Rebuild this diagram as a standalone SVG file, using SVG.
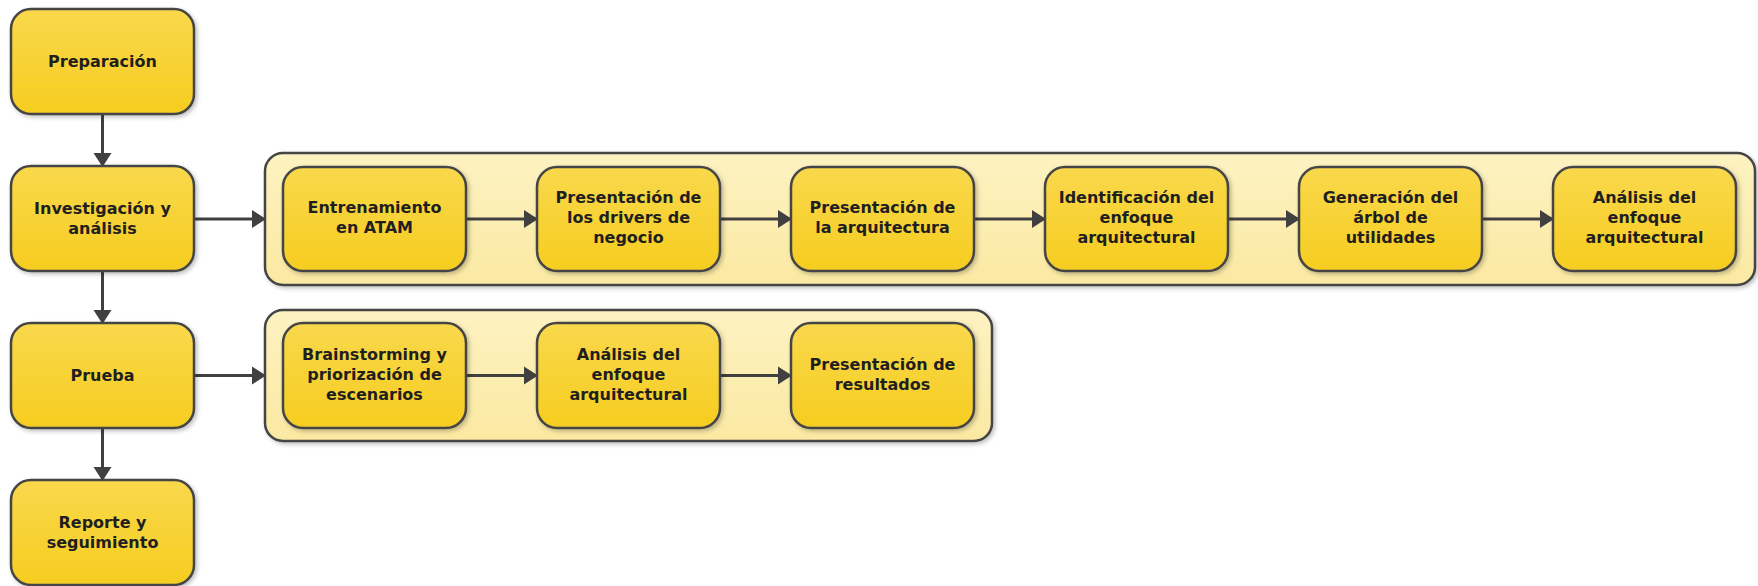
<svg xmlns="http://www.w3.org/2000/svg" width="1758" height="586" viewBox="0 0 1758 586">
<defs>
<linearGradient id="gBox" x1="0" y1="0" x2="0" y2="1">
<stop offset="0" stop-color="#F9D84C"/>
<stop offset="1" stop-color="#F6CD20"/>
</linearGradient>
<linearGradient id="gCont" x1="0" y1="0" x2="0" y2="1">
<stop offset="0" stop-color="#FDF2C2"/>
<stop offset="1" stop-color="#FBE9A2"/>
</linearGradient>
<filter id="sh" x="-10%" y="-10%" width="125%" height="130%">
<feDropShadow dx="2" dy="2" stdDeviation="2" flood-color="#000" flood-opacity="0.25"/>
</filter>
<marker id="ah" markerUnits="userSpaceOnUse" markerWidth="14" markerHeight="20" refX="13" refY="10" orient="auto">
<path d="M0,1 L14,10 L0,19 z" fill="#404040"/>
</marker>
</defs>
<style>
.box{fill:url(#gBox);stroke:#454545;stroke-width:2.5;filter:url(#sh)}
.cont{fill:url(#gCont);stroke:#454545;stroke-width:2.5;filter:url(#sh)}
.t{font-family:"DejaVu Sans","Open Sans",sans-serif;font-weight:bold;font-size:16px;fill:#1f1f1f;text-anchor:middle}
.c{stroke:#404040;stroke-width:3;fill:none;marker-end:url(#ah)}
</style>
<g id="container1"><rect class="cont" x="265" y="153" width="1490" height="132" rx="18"/></g>
<g id="container2"><rect class="cont" x="265" y="310" width="727" height="131" rx="18"/></g>
<g id="connectors">
<line class="c" x1="102.5" y1="114" x2="102.5" y2="166"/>
<line class="c" x1="102.5" y1="271" x2="102.5" y2="323"/>
<line class="c" x1="102.5" y1="428" x2="102.5" y2="480"/>
<line class="c" x1="194" y1="219" x2="265" y2="219"/>
<line class="c" x1="194" y1="375.5" x2="265" y2="375.5"/>
<line class="c" x1="466" y1="219" x2="537" y2="219"/>
<line class="c" x1="720" y1="219" x2="791" y2="219"/>
<line class="c" x1="974" y1="219" x2="1045" y2="219"/>
<line class="c" x1="1228" y1="219" x2="1299" y2="219"/>
<line class="c" x1="1482" y1="219" x2="1553" y2="219"/>
<line class="c" x1="466" y1="375.5" x2="537" y2="375.5"/>
<line class="c" x1="720" y1="375.5" x2="791" y2="375.5"/>
</g>
<g id="preparacion"><rect class="box" x="11" y="9" width="183" height="105" rx="20"/><text class="t" x="102.5" y="67">Preparación</text></g>
<g id="investigacion"><rect class="box" x="11" y="166" width="183" height="105" rx="20"/><text class="t" x="102.5" y="214">Investigación y</text><text class="t" x="102.5" y="234">análisis</text></g>
<g id="prueba"><rect class="box" x="11" y="323" width="183" height="105" rx="20"/><text class="t" x="102.5" y="381">Prueba</text></g>
<g id="reporte"><rect class="box" x="11" y="480" width="183" height="105" rx="20"/><text class="t" x="102.5" y="528">Reporte y</text><text class="t" x="102.5" y="548">seguimiento</text></g>
<g id="entrenamiento"><rect class="box" x="283" y="167" width="183" height="104" rx="20"/><text class="t" x="374.5" y="213">Entrenamiento</text><text class="t" x="374.5" y="233">en ATAM</text></g>
<g id="drivers"><rect class="box" x="537" y="167" width="183" height="104" rx="20"/><text class="t" x="628.5" y="203">Presentación de</text><text class="t" x="628.5" y="223">los drivers de</text><text class="t" x="628.5" y="243">negocio</text></g>
<g id="arquitectura"><rect class="box" x="791" y="167" width="183" height="104" rx="20"/><text class="t" x="882.5" y="213">Presentación de</text><text class="t" x="882.5" y="233">la arquitectura</text></g>
<g id="identificacion"><rect class="box" x="1045" y="167" width="183" height="104" rx="20"/><text class="t" x="1136.5" y="203">Identificación del</text><text class="t" x="1136.5" y="223">enfoque</text><text class="t" x="1136.5" y="243">arquitectural</text></g>
<g id="arbol"><rect class="box" x="1299" y="167" width="183" height="104" rx="20"/><text class="t" x="1390.5" y="203">Generación del</text><text class="t" x="1390.5" y="223">árbol de</text><text class="t" x="1390.5" y="243">utilidades</text></g>
<g id="analisis1"><rect class="box" x="1553" y="167" width="183" height="104" rx="20"/><text class="t" x="1644.5" y="203">Análisis del</text><text class="t" x="1644.5" y="223">enfoque</text><text class="t" x="1644.5" y="243">arquitectural</text></g>
<g id="brainstorming"><rect class="box" x="283" y="323" width="183" height="105" rx="20"/><text class="t" x="374.5" y="360">Brainstorming y</text><text class="t" x="374.5" y="380">priorización de</text><text class="t" x="374.5" y="400">escenarios</text></g>
<g id="analisis2"><rect class="box" x="537" y="323" width="183" height="105" rx="20"/><text class="t" x="628.5" y="360">Análisis del</text><text class="t" x="628.5" y="380">enfoque</text><text class="t" x="628.5" y="400">arquitectural</text></g>
<g id="resultados"><rect class="box" x="791" y="323" width="183" height="105" rx="20"/><text class="t" x="882.5" y="370">Presentación de</text><text class="t" x="882.5" y="390">resultados</text></g>
</svg>
